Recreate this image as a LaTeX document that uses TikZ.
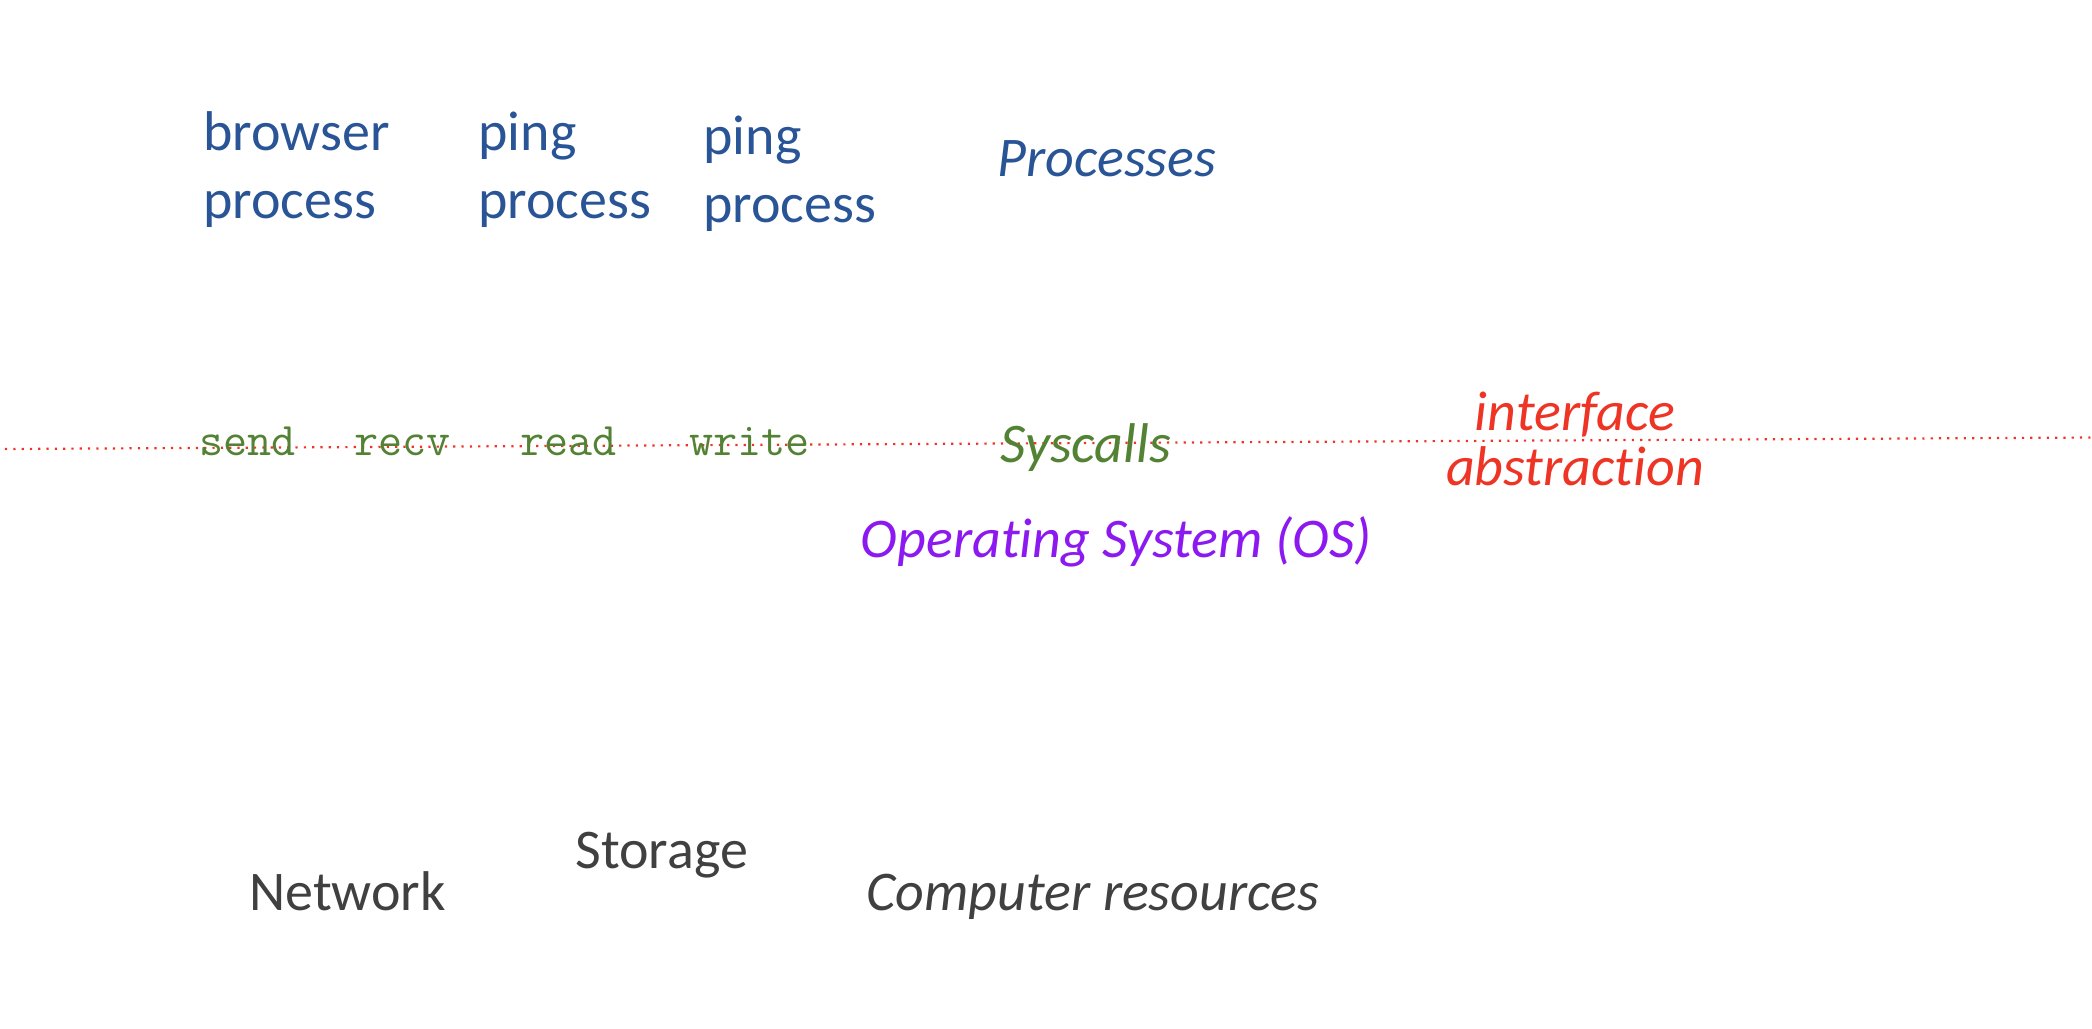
\documentclass[tikz,border=0pt]{standalone}
\usepackage{fontspec}
\setmainfont{Carlito}[Ligatures = NoCommon]
\usepackage{tikz}
\definecolor{procblue}{RGB}{41,84,150}
\definecolor{callgreen}{RGB}{84,130,53}
\definecolor{osviolet}{RGB}{140,26,240}
\definecolor{ifacered}{RGB}{238,52,36}
\definecolor{resgray}{RGB}{64,64,64}
\tikzset{every node/.style={inner sep = 0pt, anchor = base west, align = left,
  font = \fontsize{28}{34}\selectfont}}
\tikzset{proc/.style={text = procblue}}
\tikzset{call/.style={text = callgreen, font = \fontsize{23.4}{28}\selectfont\ttfamily}}
\tikzset{res/.style={text = resgray}}
\tikzset{iface line/.style={draw = ifacered, line width = 1.1pt, dash pattern = on 1.1pt off 3.05pt}}

\begin{document}
\begin{tikzpicture}[x = 0.5pt, y = -0.5pt]
  \useasboundingbox (0,0) rectangle (2092,1028);

  \coordinate (L) at (5,449);
  \coordinate (R) at (2092,437.5);
  \draw[iface line] (L) -- (R);

  % base of a two-line node = baseline of its last line
  \node[proc] (browser) at (203,218) {browser\\process};
  \node[proc] (ping1) at (478,218) {ping\\process};
  \node[proc] (ping2) at (703,222) {ping\\process};
  \node[proc, font = \fontsize{28}{34}\selectfont\itshape] (procs) at (997,176) {Processes};

  \node[call] (send) at (199,455) {send};
  \node[call] (recv) at (354,455) {recv};
  \node[call] (read) at (520,455) {read};
  \node[call] (write) at (689,455) {write};
  \node[text = callgreen, font = \fontsize{28}{34}\selectfont\itshape] (sys) at (1000,462) {Syscalls};

  \node[text = ifacered, align = center, anchor = base,
    font = \fontsize{28}{27.5}\selectfont\itshape] (iface) at (1575,485) {interface\\abstraction};

  \node[text = osviolet, anchor = base east, font = \fontsize{28}{34}\selectfont\itshape] (os) at (1372,557) {Operating System (OS)};

  \node[res] (net) at (249,910) {Network};
  \node[res] (store) at (575,868) {Storage};
  \node[res, font = \fontsize{28}{34}\selectfont\itshape] (comp) at (866,910) {Computer resources};
\end{tikzpicture}
\end{document}
